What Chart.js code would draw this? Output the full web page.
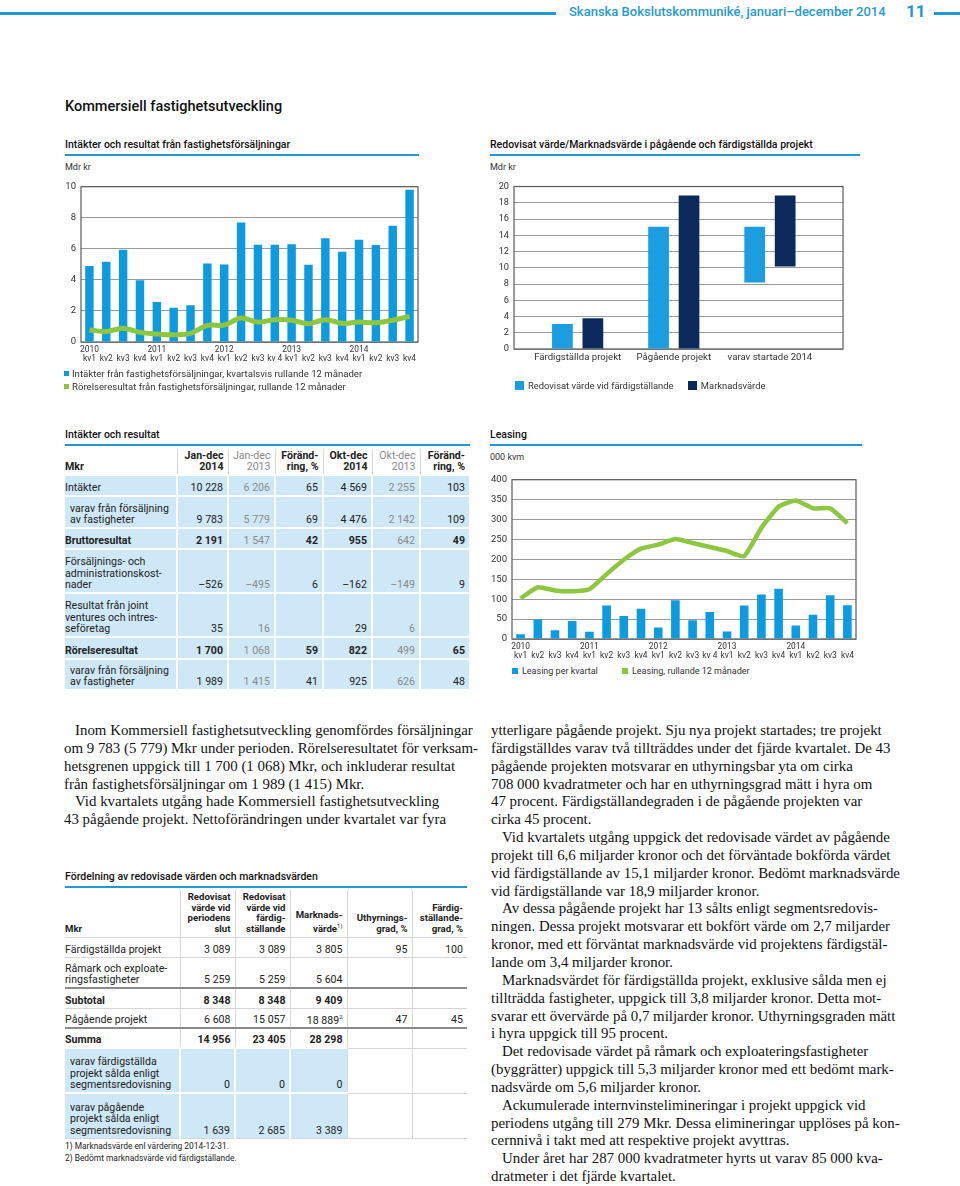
<!DOCTYPE html>
<html lang="sv">
<head>
<meta charset="utf-8">
<title>Kommersiell fastighetsutveckling</title>
<script src="https://cdn.jsdelivr.net/npm/chart.js@4.4.1/dist/chart.umd.min.js"></script>
<style>
  html, body { margin: 0; padding: 0; background: #fff; }
  body { width: 960px; height: 1186px; position: relative; overflow: hidden;
         font-family: Roboto, "Noto Sans", sans-serif; color: #222; }
  .abs { position: absolute; }
  .rule { position: absolute; height: 2px; background: #1f9ad6; }
  .hdr-text { left: 569px; top: 4px; font-size: 13px; font-weight: 500; color: #1f9ad6; white-space: nowrap; }
  .hdr-num { left: 906px; top: 1px; font-size: 17px; font-weight: 700; color: #1f9ad6; }
  .page-title { left: 65px; top: 98px; font-size: 14.5px; font-weight: 500; color: #111; }
  .box-title { font-size: 10.5px; font-weight: 500; color: #111; white-space: nowrap; }
  .unit { font-size: 9px; color: #333; }
  .legend { font-size: 9.6px; color: #333; white-space: nowrap; line-height: 13px; }
  .legend i { display: inline-block; width: 5px; height: 5px; margin-right: 3px; vertical-align: 1px; }
  .legend2 { font-size: 9.4px; color: #333; white-space: nowrap; }
  .legend2 i { display: inline-block; width: 9px; height: 9px; margin-right: 4px; vertical-align: -1px; }
  .chart-box { position: absolute; }

  table { border-collapse: collapse; table-layout: fixed; position: absolute; }
  .t1 { left: 65px; top: 449px; width: 404px; font-size: 10.6px; line-height: 11.6px; }
  .t1 th { font-weight: 700; text-align: right; vertical-align: bottom; padding: 0 4px 2px 0;
           border-left: 1px solid #d6d6d6; line-height: 11px; }
  .t1 th:first-child { text-align: left; border-left: none; padding-left: 0; }
  .t1 th.g { font-weight: 400; color: #8a8a8a; }
  .t1 td { background: #cfe8f7; border-top: 2px solid #fff; border-left: 2px solid #fff;
           text-align: right; vertical-align: bottom; padding: 0 4px 1px 0; white-space: nowrap; }
  .t1 td:first-child { text-align: left; border-left: none; padding-left: 0; white-space: normal; }
  .t1 td.in { padding-left: 5px; }
  .t1 td.g { color: #8a8a8a; }
  .t1 tr.b td { font-weight: 700; }
  .t1 tr.b td.g { font-weight: 400; }

  .t2 { left: 65px; top: 890px; width: 402px; font-size: 10.6px; line-height: 11.6px; }
  .t2 th { font-weight: 700; font-size: 9.6px; line-height: 10.6px; text-align: right; vertical-align: bottom;
           padding: 0 4px 2px 0; border-left: 1px solid #d6d6d6; }
  .t2 th:first-child { text-align: left; border-left: none; }
  .t2 th sup, .t2 td sup { font-size: 6px; font-weight: 400; }
  .t2 td { text-align: right; vertical-align: bottom; padding: 0 4px 1px 0; border-left: 1px solid #d6d6d6;
           border-top: 1px solid #d6d6d6; white-space: nowrap; }
  .t2 td:first-child { text-align: left; border-left: none; white-space: normal; }
  .t2 tr.b td { font-weight: 700; }
  .t2 tr.thick td { border-top: 2px solid #8a8a8a; }
  .t2 tr.blue td.c { background: #cfe8f7; border-left: 2px solid #fff; border-top: 2px solid #fff; }
  .t2 tr.blue td.c:first-child { border-left: none; padding-left: 5px; }
  .t2 tr.last td { border-bottom: 1px solid #d6d6d6; }
  .foot { left: 65px; font-size: 8.4px; color: #222; white-space: nowrap; }

  .para { position: absolute; font-family: "Liberation Serif", "DejaVu Serif", serif; font-size: 14.9px;
          line-height: 17.85px; color: #111; white-space: nowrap; }
  .para .ind { padding-left: 11px; }
</style>
</head>
<body>

<!-- page header -->
<div class="rule" style="left:0; top:12px; width:556px; height:2.5px;"></div>
<div class="abs hdr-text">Skanska Bokslutskommuniké, januari–december 2014</div>
<div class="abs hdr-num">11</div>
<div class="rule" style="left:934px; top:12px; width:26px; height:2.5px;"></div>

<div class="abs page-title">Kommersiell fastighetsutveckling</div>

<!-- chart 1 -->
<div class="abs box-title" style="left:65px; top:138px;">Intäkter och resultat från fastighetsförsäljningar</div>
<div class="rule" style="left:65px; top:154px; width:354px;"></div>
<div class="abs unit" style="left:65px; top:162px;">Mdr kr</div>
<div class="chart-box" style="left:60px; top:176px; width:362px; height:192px;"><canvas id="salesChart"></canvas></div>
<div class="abs legend" style="left:64px; top:367px;">
  <div><i style="background:#0c9be0"></i>Intäkter från fastighetsförsäljningar, kvartalsvis rullande 12 månader</div>
  <div><i style="background:#8dc63f"></i>Rörelseresultat från fastighetsförsäljningar, rullande 12 månader</div>
</div>

<!-- chart 2 -->
<div class="abs box-title" style="left:490px; top:138px;">Redovisat värde/Marknadsvärde i pågående och färdigställda projekt</div>
<div class="rule" style="left:490px; top:154px; width:370px;"></div>
<div class="abs unit" style="left:490px; top:162px;">Mdr kr</div>
<div class="chart-box" style="left:490px; top:176px; width:358px; height:189px;"><canvas id="valueChart"></canvas></div>
<div class="abs legend2" style="left:515px; top:380px;">
  <i style="background:#1c9de0"></i>Redovisat värde vid färdigställande
  <span style="display:inline-block; width:12px;"></span><i style="background:#0b2a5b"></i>Marknadsvärde
</div>

<!-- table 1 -->
<div class="abs box-title" style="left:65px; top:428px;">Intäkter och resultat</div>
<div class="rule" style="left:65px; top:444px; width:405px;"></div>
<table class="t1">
  <colgroup><col style="width:112px"><col style="width:51px"><col style="width:47px"><col style="width:48px"><col style="width:49px"><col style="width:48px"><col style="width:49px"></colgroup>
  <tr style="height:26px"><th>Mkr</th><th>Jan-dec<br>2014</th><th class="g">Jan-dec<br>2013</th><th>Föränd-<br>ring, %</th><th>Okt-dec<br>2014</th><th class="g">Okt-dec<br>2013</th><th>Föränd-<br>ring, %</th></tr>
  <tr style="height:21px"><td>Intäkter</td><td>10 228</td><td class="g">6 206</td><td>65</td><td>4 569</td><td class="g">2 255</td><td>103</td></tr>
  <tr style="height:32px"><td class="in">varav från försäljning<br>av fastigheter</td><td>9 783</td><td class="g">5 779</td><td>69</td><td>4 476</td><td class="g">2 142</td><td>109</td></tr>
  <tr class="b" style="height:21px"><td>Bruttoresultat</td><td>2 191</td><td class="g">1 547</td><td>42</td><td>955</td><td class="g">642</td><td>49</td></tr>
  <tr style="height:44px"><td>Försäljnings- och<br>administrationskost-<br>nader</td><td>–526</td><td class="g">–495</td><td>6</td><td>–162</td><td class="g">–149</td><td>9</td></tr>
  <tr style="height:44px"><td>Resultat från joint<br>ventures och intres-<br>seföretag</td><td>35</td><td class="g">16</td><td></td><td>29</td><td class="g">6</td><td></td></tr>
  <tr class="b" style="height:22px"><td>Rörelseresultat</td><td>1 700</td><td class="g">1 068</td><td>59</td><td>822</td><td class="g">499</td><td>65</td></tr>
  <tr style="height:30px"><td class="in">varav från försäljning<br>av fastigheter</td><td>1 989</td><td class="g">1 415</td><td>41</td><td>925</td><td class="g">626</td><td>48</td></tr>
</table>

<!-- chart 3 -->
<div class="abs box-title" style="left:490px; top:428px;">Leasing</div>
<div class="rule" style="left:490px; top:444px; width:372px;"></div>
<div class="abs unit" style="left:490px; top:452px;">000 kvm</div>
<div class="chart-box" style="left:485px; top:469px; width:376px; height:193px;"><canvas id="leasingChart"></canvas></div>
<div class="abs legend2" style="left:512px; top:666px; font-size:9px;">
  <i style="background:#0c9be0; width:6px; height:6px; vertical-align:0"></i>Leasing per kvartal
  <span style="display:inline-block; width:22px;"></span><i style="background:#8dc63f; width:6px; height:6px; vertical-align:0"></i>Leasing, rullande 12 månader
</div>

<!-- body text -->
<div class="para" style="left:64px; top:722px;">
<div class="ind">Inom Kommersiell fastighetsutveckling genomfördes försäljningar</div>
<div>om 9 783 (5 779) Mkr under perioden. Rörelseresultatet för verksam-</div>
<div>hetsgrenen uppgick till 1 700 (1 068) Mkr, och inkluderar resultat</div>
<div>från fastighetsförsäljningar om 1 989 (1 415) Mkr.</div>
<div class="ind">Vid kvartalets utgång hade Kommersiell fastighetsutveckling</div>
<div>43 pågående projekt. Nettoförändringen under kvartalet var fyra</div>
</div>

<div class="para" style="left:491px; top:722px;">
<div>ytterligare pågående projekt. Sju nya projekt startades; tre projekt</div>
<div>färdigställdes varav två tillträddes under det fjärde kvartalet. De 43</div>
<div>pågående projekten motsvarar en uthyrningsbar yta om cirka</div>
<div>708 000 kvadratmeter och har en uthyrningsgrad mätt i hyra om</div>
<div>47 procent. Färdigställandegraden i de pågående projekten var</div>
<div>cirka 45 procent.</div>
<div class="ind">Vid kvartalets utgång uppgick det redovisade värdet av pågående</div>
<div>projekt till 6,6 miljarder kronor och det förväntade bokförda värdet</div>
<div>vid färdigställande av 15,1 miljarder kronor. Bedömt marknadsvärde</div>
<div>vid färdigställande var 18,9 miljarder kronor.</div>
<div class="ind">Av dessa pågående projekt har 13 sålts enligt segmentsredovis-</div>
<div>ningen. Dessa projekt motsvarar ett bokfört värde om 2,7 miljarder</div>
<div>kronor, med ett förväntat marknadsvärde vid projektens färdigstäl-</div>
<div>lande om 3,4 miljarder kronor.</div>
<div class="ind">Marknadsvärdet för färdigställda projekt, exklusive sålda men ej</div>
<div>tillträdda fastigheter, uppgick till 3,8 miljarder kronor. Detta mot-</div>
<div>svarar ett övervärde på 0,7 miljarder kronor. Uthyrningsgraden mätt</div>
<div>i hyra uppgick till 95 procent.</div>
<div class="ind">Det redovisade värdet på råmark och exploateringsfastigheter</div>
<div>(byggrätter) uppgick till 5,3 miljarder kronor med ett bedömt mark-</div>
<div>nadsvärde om 5,6 miljarder kronor.</div>
<div class="ind">Ackumulerade internvinstelimineringar i projekt uppgick vid</div>
<div>periodens utgång till 279 Mkr. Dessa elimineringar upplöses på kon-</div>
<div>cernnivå i takt med att respektive projekt avyttras.</div>
<div class="ind">Under året har 287 000 kvadratmeter hyrts ut varav 85 000 kva-</div>
<div>dratmeter i det fjärde kvartalet.</div>
</div>

<!-- table 2 -->
<div class="abs box-title" style="left:65px; top:870px;">Fördelning av redovisade värden och marknadsvärden</div>
<div class="rule" style="left:65px; top:886px; width:402px;"></div>
<table class="t2">
  <colgroup><col style="width:115px"><col style="width:55px"><col style="width:55px"><col style="width:57px"><col style="width:65px"><col style="width:55px"></colgroup>
  <tr style="height:47px"><th>Mkr</th><th>Redovisat<br>värde vid<br>periodens<br>slut</th><th>Redovisat<br>värde vid<br>färdig-<br>ställande</th><th>Marknads-<br>värde<sup>1)</sup></th><th>Uthyrnings-<br>grad, %</th><th>Färdig-<br>ställande-<br>grad, %</th></tr>
  <tr style="height:20px"><td>Färdigställda projekt</td><td>3 089</td><td>3 089</td><td>3 805</td><td>95</td><td>100</td></tr>
  <tr style="height:31px"><td>Råmark och exploate-<br>ringsfastigheter</td><td>5 259</td><td>5 259</td><td>5 604</td><td></td><td></td></tr>
  <tr class="b thick" style="height:20px"><td>Subtotal</td><td>8 348</td><td>8 348</td><td>9 409</td><td></td><td></td></tr>
  <tr style="height:20px"><td>Pågående projekt</td><td>6 608</td><td>15 057</td><td>18 889<sup>2</sup></td><td>47</td><td>45</td></tr>
  <tr class="b thick" style="height:20px"><td>Summa</td><td>14 956</td><td>23 405</td><td>28 298</td><td></td><td></td></tr>
  <tr class="blue" style="height:45px"><td class="c">varav färdigställda<br>projekt sålda enligt<br>segmentsredovisning</td><td class="c">0</td><td class="c">0</td><td class="c">0</td><td></td><td></td></tr>
  <tr class="blue last" style="height:45px"><td class="c">varav pågående<br>projekt sålda enligt<br>segmentsredovisning</td><td class="c">1 639</td><td class="c">2 685</td><td class="c">3 389</td><td></td><td></td></tr>
</table>
<div class="abs foot" style="top:1141px;">1) Marknadsvärde enl värdering 2014-12-31.</div>
<div class="abs foot" style="top:1153px;">2) Bedömt marknadsvärde vid färdigställande.</div>

<script>
// ---- data ----
var years = ['2010', '2011', '2012', '2013', '2014'];
var quarterNames = [
  'kv1', 'kv2', 'kv3', 'kv4',
  'kv1', 'kv2', 'kv3', 'kv4',
  'kv1', 'kv2', 'kv3', 'kv 4',
  'kv1', 'kv2', 'kv3', 'kv4',
  'kv1', 'kv2', 'kv3', 'kv4'
];
// Mdr kr
var salesRevenue = [4.9, 5.17, 5.94, 3.98, 2.58, 2.2, 2.37, 5.05, 4.99, 7.69, 6.27, 6.27, 6.29, 4.97, 6.68, 5.81, 6.58, 6.25, 7.48, 9.8];
var salesResult = [0.78, 0.68, 0.89, 0.62, 0.52, 0.47, 0.56, 1.07, 1.09, 1.55, 1.28, 1.44, 1.4, 1.18, 1.44, 1.2, 1.28, 1.24, 1.4, 1.65];

// Mdr kr, [from, to]
var projectCategories = ['Färdigställda projekt', 'Pågående projekt', 'varav startade 2014'];
var bookValue = [[0, 3.09], [0, 15.06], [8.2, 15.06]];
var marketValue = [[0, 3.8], [0, 18.89], [10.15, 18.89]];

// 000 kvm
var leasingQuarter = [12, 49, 22, 45, 18, 84, 58, 76, 29, 97, 47, 68, 19, 84, 112, 126, 34, 61, 110, 85];
var leasingRolling = [102, 130, 122, 120, 125, 163, 199, 227, 237, 251, 241, 231, 221, 208, 279, 332, 348, 328, 328, 291];

var BLUE = '#0c9be0';
var GREEN = '#8dc63f';
var NAVY = '#0b2a5b';
var LIGHTBLUE = '#1c9de0';
var FONT = 'Roboto, "Noto Sans", sans-serif';

Chart.defaults.font.family = FONT;
Chart.defaults.color = '#333';
Chart.defaults.animation = false;

// quarter labels with the year on the first quarter
var quarterLabels = quarterNames.map(function (q, i) {
  return [i % 4 === 0 ? years[i / 4] : '', q];
});

// dark frame round the plot area
var framePlugin = {
  id: 'frame',
  beforeDatasetsDraw: function (chart) {
    var a = chart.chartArea;
    var c = chart.ctx;
    c.save();
    c.strokeStyle = '#5a5a5a';
    c.lineWidth = 1.2;
    c.strokeRect(a.left, a.top, a.right - a.left, a.bottom - a.top);
    c.restore();
  }
};

function yAxis(width, min, max, step, fontSize) {
  return {
    min: min, max: max,
    afterFit: function (s) { s.width = width; },
    border: { display: false },
    grid: { color: '#9a9a9a', lineWidth: 1, drawTicks: false },
    ticks: { stepSize: step, padding: 5, font: { size: fontSize }, color: '#333' }
  };
}

function quarterAxis(height) {
  return {
    afterFit: function (s) { s.height = height; },
    grid: { display: false, drawTicks: false, tickLength: 0 },
    border: { display: false },
    ticks: { autoSkip: false, maxRotation: 0, padding: 3, font: { size: 8.4, lineHeight: 1.1 }, color: '#333' }
  };
}

// ============================================================
// Chart 1: sales revenue (bars) and result (line)
// ============================================================
(function () {
  var ctx = document.getElementById('salesChart');
  new Chart(ctx, {
    type: 'bar',
    data: {
      labels: quarterLabels,
      datasets: [
        {
          type: 'line',
          label: 'Rörelseresultat från fastighetsförsäljningar, rullande 12 månader',
          data: salesResult,
          borderColor: GREEN,
          borderWidth: 5,
          pointRadius: 0,
          tension: 0.35,
          order: 0
        },
        {
          label: 'Intäkter från fastighetsförsäljningar, kvartalsvis rullande 12 månader',
          data: salesRevenue,
          backgroundColor: BLUE,
          barPercentage: 0.5,
          categoryPercentage: 1,
          order: 1
        }
      ]
    },
    options: {
      responsive: true,
      maintainAspectRatio: false,
      layout: { padding: { top: 4, right: 4 } },
      plugins: { legend: { display: false }, tooltip: { enabled: false } },
      scales: {
        x: quarterAxis(26),
        y: yAxis(21, 0, 10, 2, 9.5)
      }
    },
    plugins: [framePlugin]
  });
}());

// ============================================================
// Chart 2: book value vs market value (floating bars)
// ============================================================
(function () {
  var ctx = document.getElementById('valueChart');
  function points(ranges) {
    return ranges.map(function (r, i) { return { x: i, y: r }; });
  }
  new Chart(ctx, {
    type: 'bar',
    data: {
      datasets: [
        {
          label: 'Redovisat värde vid färdigställande',
          data: points(bookValue),
          backgroundColor: LIGHTBLUE,
          categoryPercentage: 0.634,
          barPercentage: 0.68
        },
        {
          label: 'Marknadsvärde',
          data: points(marketValue),
          backgroundColor: NAVY,
          categoryPercentage: 0.634,
          barPercentage: 0.68
        }
      ]
    },
    options: {
      responsive: true,
      maintainAspectRatio: false,
      layout: { padding: { top: 5, right: 5 } },
      plugins: { legend: { display: false }, tooltip: { enabled: false } },
      scales: {
        x: {
          type: 'linear',
          offset: false,
          min: -0.662,
          max: 2.76,
          afterFit: function (s) { s.height = 16; },
          grid: { display: false, drawTicks: false, tickLength: 0 },
          border: { display: false },
          ticks: {
            stepSize: 1,
            includeBounds: false,
            padding: 3,
            font: { size: 9.6 },
            color: '#333',
            callback: function (v) {
              return Number.isInteger(v) ? projectCategories[v] : '';
            }
          }
        },
        y: yAxis(24, 0, 20, 2, 9.2)
      }
    },
    plugins: [framePlugin]
  });
}());

// ============================================================
// Chart 3: leasing per quarter (bars) and rolling 12 months (line)
// ============================================================
(function () {
  var ctx = document.getElementById('leasingChart');
  new Chart(ctx, {
    type: 'bar',
    data: {
      labels: quarterLabels,
      datasets: [
        {
          type: 'line',
          label: 'Leasing, rullande 12 månader',
          data: leasingRolling,
          borderColor: GREEN,
          borderWidth: 4.5,
          pointRadius: 0,
          tension: 0.15,
          order: 0
        },
        {
          label: 'Leasing per kvartal',
          data: leasingQuarter,
          backgroundColor: BLUE,
          barPercentage: 0.5,
          categoryPercentage: 1,
          order: 1
        }
      ]
    },
    options: {
      responsive: true,
      maintainAspectRatio: false,
      layout: { padding: { top: 4, right: 5 } },
      plugins: { legend: { display: false }, tooltip: { enabled: false } },
      scales: {
        x: quarterAxis(23),
        y: yAxis(27, 0, 400, 50, 9.5)
      }
    },
    plugins: [framePlugin]
  });
}());
</script>
</body>
</html>
